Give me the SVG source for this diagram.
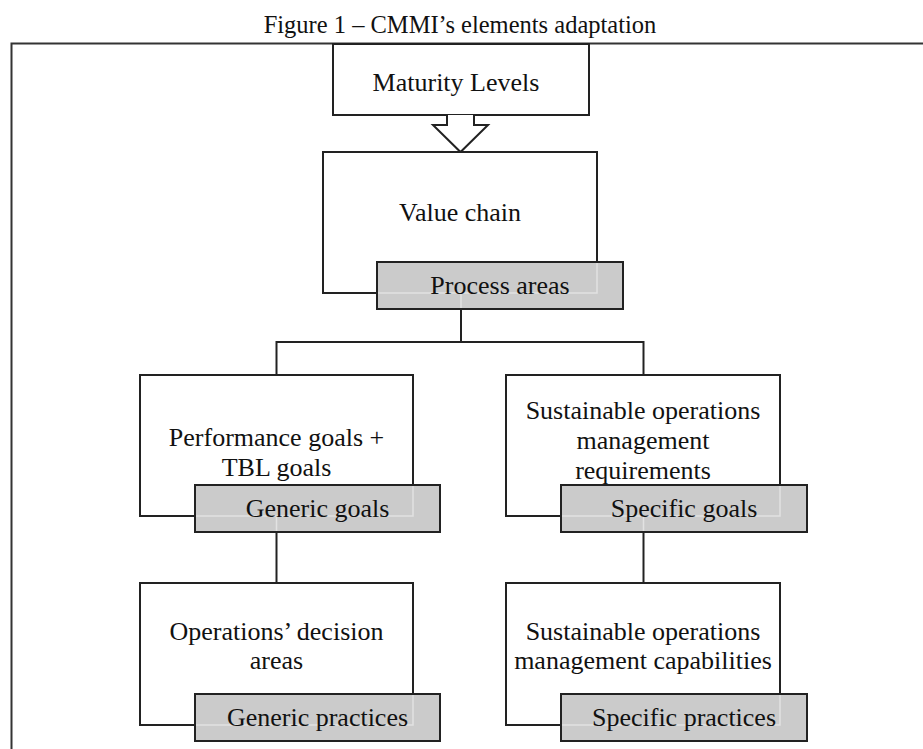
<svg xmlns="http://www.w3.org/2000/svg" width="923" height="749" viewBox="0 0 923 749">
  <style>
    .lbl { font-family: "Liberation Serif", "Times New Roman", serif; font-size: 26px; fill: #111; text-anchor: middle; }
    .cap { font-family: "Liberation Serif", "Times New Roman", serif; font-size: 24.5px; fill: #111; text-anchor: middle; }
    .box { fill: #fff; stroke: #222; stroke-width: 2; }
    .tab { fill: #cbcbcb; stroke: #222; stroke-width: 2; }
    .ghost { fill: none; stroke: #e2e2e2; stroke-width: 1.5; }
    .wire { fill: none; stroke: #222; stroke-width: 2; }
    .frame { fill: none; stroke: #333; stroke-width: 2; }
  </style>

  <rect width="923" height="749" fill="#fff"/>

  <!-- figure caption -->
  <text class="cap" x="460" y="33">Figure 1 – CMMI’s elements adaptation</text>

  <!-- outer frame (open to the right and bottom) -->
  <path class="frame" d="M11.5,749 V43.5 H923"/>

  <!-- connectors -->
  <g id="connectors">
    <path class="wire" d="M461,309 V342"/>
    <path class="wire" d="M276.5,342 H643.5"/>
    <path class="wire" d="M276.5,341 V375"/>
    <path class="wire" d="M643.5,341 V375"/>
    <path class="wire" d="M276.5,532 V583"/>
    <path class="wire" d="M643.5,532 V583"/>
  </g>

  <!-- maturity levels with block arrow -->
  <g id="maturity-levels">
    <rect class="box" x="333" y="44" width="256" height="71"/>
    <path class="box" d="M447,115 V125 H433 L460.5,152 L488,125 H474 V115"/>
    <text class="lbl" x="456" y="91">Maturity Levels</text>
  </g>

  <g id="value-chain">
    <rect class="box" x="323" y="152" width="274" height="141"/>
    <text class="lbl" x="460" y="221">Value chain</text>
  </g>
  <g id="process-areas">
    <rect class="tab" x="377" y="262" width="246" height="47"/>
    <path class="ghost" d="M597,263 V293 H378 M461,294 V308"/>
    <text class="lbl" x="500" y="294">Process areas</text>
  </g>

  <g id="performance-goals">
    <rect class="box" x="140" y="375" width="273" height="141"/>
    <text class="lbl" x="276.5" y="446">Performance goals +</text>
    <text class="lbl" x="276.5" y="476">TBL goals</text>
  </g>
  <g id="generic-goals">
    <rect class="tab" x="195" y="485" width="245" height="47"/>
    <path class="ghost" d="M413,486 V516 H196 M276.5,517 V531"/>
    <text class="lbl" x="317.5" y="517">Generic goals</text>
  </g>

  <g id="som-requirements">
    <rect class="box" x="506" y="375" width="274" height="141"/>
    <text class="lbl" x="643" y="419">Sustainable operations</text>
    <text class="lbl" x="643" y="449">management</text>
    <text class="lbl" x="643" y="479">requirements</text>
  </g>
  <g id="specific-goals">
    <rect class="tab" x="561" y="485" width="246" height="47"/>
    <path class="ghost" d="M780,486 V516 H562 M643.5,517 V531"/>
    <text class="lbl" x="684" y="517">Specific goals</text>
  </g>

  <g id="decision-areas">
    <rect class="box" x="140" y="583" width="273" height="142"/>
    <text class="lbl" x="276.5" y="640">Operations’ decision</text>
    <text class="lbl" x="276.5" y="669">areas</text>
  </g>
  <g id="generic-practices">
    <rect class="tab" x="195" y="694" width="245" height="47"/>
    <path class="ghost" d="M413,695 V725 H196"/>
    <text class="lbl" x="317.5" y="726">Generic practices</text>
  </g>

  <g id="som-capabilities">
    <rect class="box" x="506" y="583" width="274" height="142"/>
    <text class="lbl" x="643" y="640">Sustainable operations</text>
    <text class="lbl" x="643" y="669">management capabilities</text>
  </g>
  <g id="specific-practices">
    <rect class="tab" x="561" y="694" width="246" height="47"/>
    <path class="ghost" d="M780,695 V725 H562"/>
    <text class="lbl" x="684" y="726">Specific practices</text>
  </g>
</svg>
